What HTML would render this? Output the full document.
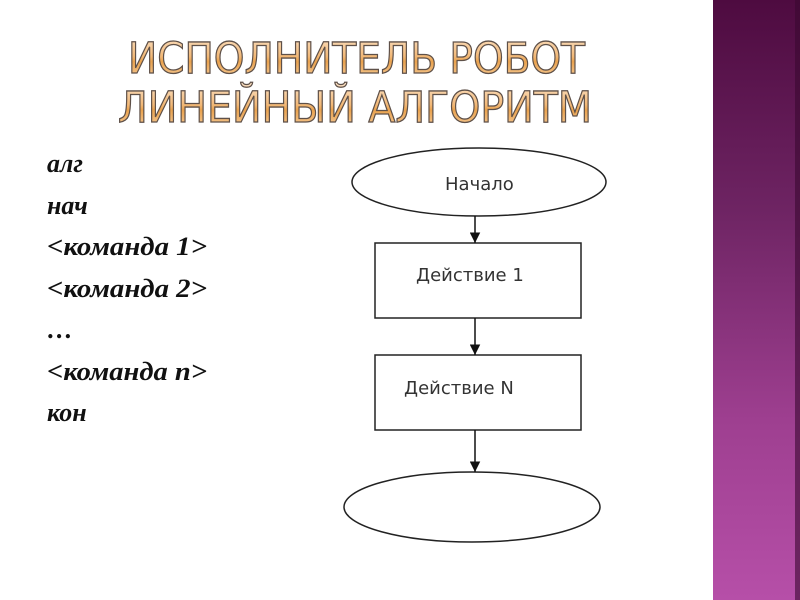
<!DOCTYPE html>
<html><head><meta charset="utf-8"><style>
html,body{margin:0;padding:0;background:#fff;}
svg{display:block}
</style></head><body>
<svg width="800" height="600" viewBox="0 0 800 600" xmlns="http://www.w3.org/2000/svg">
<defs>
<linearGradient id="bar" x1="0" y1="0" x2="0" y2="1">
<stop offset="0" stop-color="#4e0b40"/>
<stop offset="0.35" stop-color="#6e2463"/>
<stop offset="0.7" stop-color="#9e3f90"/>
<stop offset="1" stop-color="#b64fa8"/>
</linearGradient>
<linearGradient id="tg" x1="0" y1="0" x2="0" y2="1">
<stop offset="0" stop-color="#fbe3c8"/>
<stop offset="0.45" stop-color="#f2b877"/>
<stop offset="0.55" stop-color="#e9a24e"/>
<stop offset="1" stop-color="#f9d7ae"/>
</linearGradient>
<marker id="ar" viewBox="0 0 10 10" refX="10" refY="5" markerWidth="7" markerHeight="7" orient="auto"><path d="M0,0 L10,5 L0,10 z" fill="#111"/></marker>
</defs>
<rect x="713" y="0" width="87" height="600" fill="url(#bar)"/>
<rect x="795" y="0" width="5" height="600" fill="#3a0830" opacity="0.6"/>
<g font-family="'DejaVu Sans', sans-serif" font-size="43" fill="url(#tg)" stroke="#5e5048" stroke-width="1.3">
<text x="128" y="73" textLength="457" lengthAdjust="spacingAndGlyphs">ИСПОЛНИТЕЛЬ РОБОТ</text>
<text x="118" y="122" textLength="474" lengthAdjust="spacingAndGlyphs">ЛИНЕЙНЫЙ АЛГОРИТМ</text>
</g>
<g font-family="'Liberation Serif', serif" font-weight="bold" font-style="italic" font-size="26" fill="#111">
<text x="47" y="172">алг</text>
<text x="47" y="214">нач</text>
<text x="47" y="255" textLength="160" lengthAdjust="spacingAndGlyphs">&lt;команда 1&gt;</text>
<text x="47" y="297" textLength="160" lengthAdjust="spacingAndGlyphs">&lt;команда 2&gt;</text>
<text x="47" y="338">…</text>
<text x="47" y="380" textLength="160" lengthAdjust="spacingAndGlyphs">&lt;команда n&gt;</text>
<text x="47" y="421">кон</text>
</g>
<g fill="#fff" stroke="#222" stroke-width="1.5">
<ellipse cx="479" cy="182" rx="127" ry="34"/>
<rect x="375" y="243" width="206" height="75"/>
<rect x="375" y="355" width="206" height="75"/>
<ellipse cx="472" cy="507" rx="128" ry="35"/>
</g>
<g stroke="#111" stroke-width="1.5" marker-end="url(#ar)">
<line x1="475" y1="216" x2="475" y2="243"/>
<line x1="475" y1="318" x2="475" y2="355"/>
<line x1="475" y1="430" x2="475" y2="472"/>
</g>
<g font-family="'DejaVu Sans', sans-serif" font-size="18" fill="#333">
<text x="445" y="190">Начало</text>
<text x="416" y="281">Действие 1</text>
<text x="404" y="394">Действие N</text>
</g>
</svg>
</body></html>
